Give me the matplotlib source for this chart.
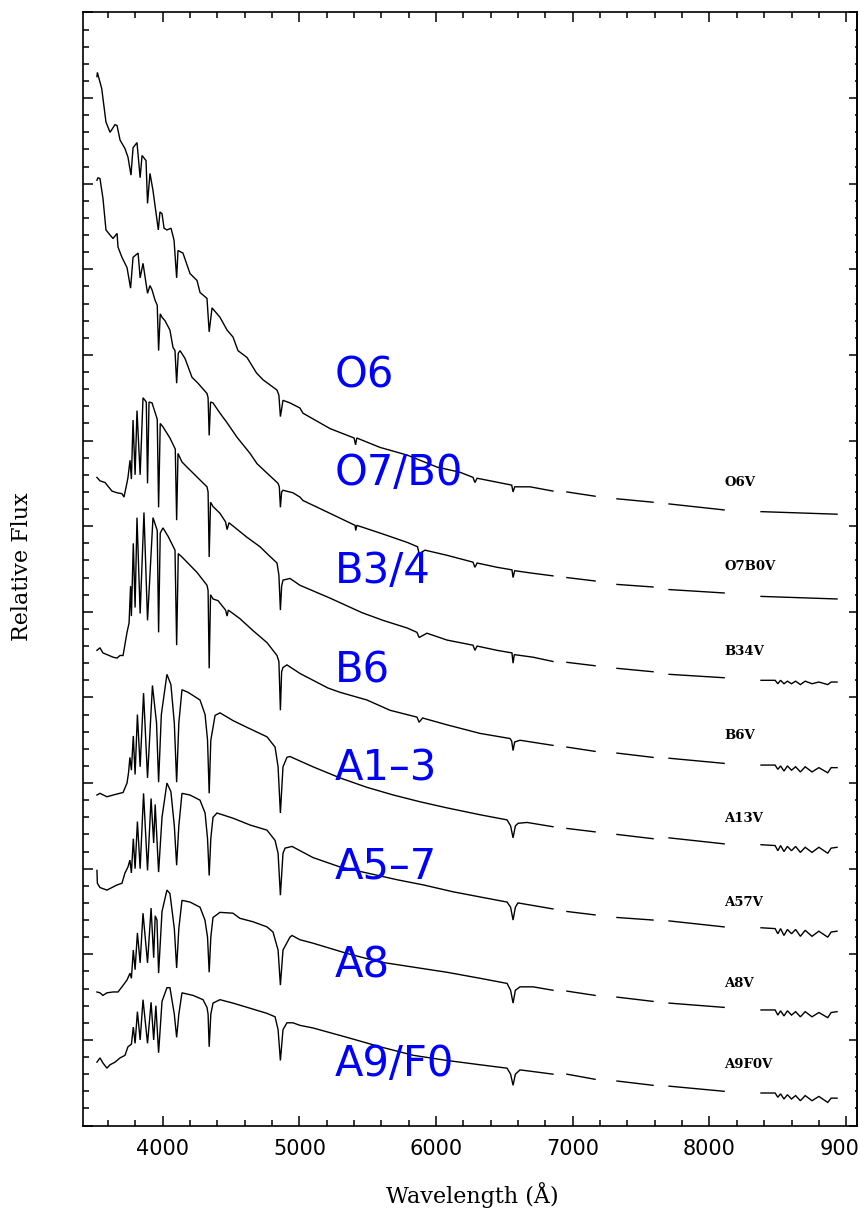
import numpy as np
import matplotlib
matplotlib.use("Agg")
import matplotlib.pyplot as plt
from matplotlib.ticker import MultipleLocator, NullFormatter

nan = np.nan

# Stacked main-sequence spectra: wavelength (Angstrom) and offset relative flux.
# NaN entries mark masked telluric bands.
o6v_wave = [3519, 3522, 3554, 3585, 3615, 3651, 3666, 3688, 3724, 3746, 3768, 3783, 3812, 3835, 3849,
            3878, 3889, 3907, 3929, 3968, 3980, 3995, 4010, 4031, 4061, 4083, 4102, 4112, 4148, 4200,
            4251, 4273, 4324, 4340, 4361, 4419, 4471, 4514, 4551, 4617, 4686, 4734, 4836, 4850, 4861,
            4880, 4931, 5004, 5026, 5224, 5400, 5411, 5420, 5590, 5790, 6007, 6175, 6270, 6284, 6300,
            6553, 6563, 6575, 6687, 6855, 6900, 6957, 7163, 7240, 7323, 7587, 7650, 7704, 8107, 8240,
            8377, 8933]
o6v_flux = [12.25, 12.30, 12.11, 11.72, 11.60, 11.69, 11.68, 11.51, 11.41, 11.31, 11.10, 11.42, 11.48, 11.07, 11.33,
            11.27, 10.77, 11.12, 10.92, 10.46, 10.67, 10.65, 10.48, 10.46, 10.48, 10.34, 9.90, 10.22, 10.19, 9.95,
            9.87, 9.73, 9.66, 9.27, 9.55, 9.44, 9.29, 9.21, 9.05, 8.97, 8.79, 8.71, 8.59, 8.53, 8.28,
            8.47, 8.44, 8.38, 8.32, 8.14, 8.03, 7.95, 8.03, 7.92, 7.83, 7.69, 7.63, 7.57, 7.51, 7.56,
            7.48, 7.40, 7.46, 7.46, 7.41, nan, 7.40, 7.35, nan, 7.32, 7.28, nan, 7.26, 7.19, nan,
            7.17, 7.14]

o7b0v_wave = [3519, 3526, 3541, 3563, 3585, 3615, 3637, 3666, 3673, 3702, 3739, 3765, 3783, 3820, 3835,
              3856, 3889, 3907, 3922, 3944, 3960, 3970, 3982, 3995, 4017, 4053, 4075, 4090, 4102, 4114,
              4127, 4163, 4214, 4258, 4324, 4332, 4340, 4350, 4368, 4419, 4470, 4543, 4639, 4690, 4763,
              4844, 4853, 4861, 4870, 4880, 4953, 5004, 5026, 5224, 5407, 5412, 5420, 5590, 5790, 5864,
              5876, 5919, 6080, 6270, 6284, 6300, 6446, 6555, 6563, 6575, 6709, 6855, 6900, 6957, 7163,
              7240, 7323, 7587, 7650, 7704, 8107, 8240, 8377, 8933]
o7b0v_flux = [11.04, 11.07, 11.06, 10.83, 10.46, 10.40, 10.36, 10.42, 10.26, 10.14, 10.02, 9.78, 10.14, 10.19, 9.90,
              10.07, 9.72, 9.81, 9.76, 9.64, 9.58, 9.05, 9.48, 9.44, 9.40, 9.29, 9.09, 9.05, 8.67, 9.02,
              9.05, 8.96, 8.74, 8.67, 8.55, 8.50, 8.06, 8.45, 8.44, 8.32, 8.21, 8.04, 7.85, 7.73, 7.62,
              7.50, 7.46, 7.22, 7.40, 7.42, 7.39, 7.34, 7.30, 7.15, 7.01, 6.95, 7.01, 6.92, 6.81, 6.76,
              6.68, 6.72, 6.66, 6.58, 6.52, 6.57, 6.52, 6.49, 6.40, 6.48, 6.45, 6.42, nan, 6.40, 6.36,
              nan, 6.32, 6.29, nan, 6.26, 6.22, nan, 6.18, 6.15]

b34v_wave = [3519, 3541, 3578, 3629, 3666, 3702, 3717, 3739, 3746, 3761, 3771, 3783, 3798, 3812, 3835,
             3856, 3880, 3889, 3900, 3922, 3960, 3970, 3982, 4002, 4053, 4092, 4102, 4112, 4141, 4178,
             4273, 4324, 4332, 4340, 4350, 4368, 4419, 4460, 4471, 4485, 4617, 4712, 4763, 4836, 4850,
             4861, 4870, 4880, 4931, 5004, 5224, 5458, 5612, 5790, 5860, 5876, 5933, 6080, 6270, 6284,
             6300, 6446, 6555, 6563, 6572, 6709, 6855, 6900, 6957, 7163, 7240, 7323, 7587, 7650, 7704,
             8107, 8240, 8377, 8480, 8500, 8520, 8545, 8570, 8600, 8630, 8665, 8700, 8750, 8800, 8865,
             8890, 8933]
b34v_flux = [7.57, 7.53, 7.51, 7.41, 7.39, 7.38, 7.34, 7.51, 7.57, 7.77, 7.55, 8.24, 7.60, 8.35, 7.60,
             8.50, 8.45, 7.50, 8.45, 8.44, 8.25, 7.22, 8.20, 8.16, 8.03, 7.90, 7.07, 7.85, 7.75, 7.69,
             7.54, 7.46, 7.40, 6.64, 7.28, 7.23, 7.15, 7.05, 6.96, 7.04, 6.87, 6.76, 6.68, 6.57, 6.43,
             6.02, 6.30, 6.37, 6.39, 6.31, 6.16, 5.99, 5.90, 5.81, 5.76, 5.70, 5.75, 5.67, 5.61, 5.55,
             5.60, 5.55, 5.52, 5.40, 5.50, 5.47, 5.42, nan, 5.41, 5.37, nan, 5.34, 5.30, nan, 5.27,
             5.23, nan, 5.20, 5.20, 5.16, 5.20, 5.16, 5.19, 5.16, 5.19, 5.15, 5.19, 5.16, 5.18, 5.15,
             5.18, 5.18]

b6v_wave = [3519, 3541, 3563, 3637, 3666, 3688, 3710, 3739, 3754, 3765, 3771, 3785, 3798, 3812, 3835,
            3863, 3889, 3929, 3960, 3970, 3982, 4002, 4040, 4090, 4102, 4114, 4141, 4178, 4251, 4324,
            4332, 4340, 4350, 4368, 4405, 4460, 4471, 4480, 4565, 4661, 4763, 4836, 4850, 4861, 4870,
            4880, 4909, 5004, 5209, 5297, 5494, 5663, 5860, 5876, 5901, 6080, 6321, 6541, 6553, 6563,
            6575, 6614, 6855, 6900, 6957, 7163, 7240, 7323, 7587, 7650, 7704, 8107, 8240, 8377, 8480,
            8500, 8520, 8545, 8570, 8600, 8630, 8665, 8700, 8750, 8800, 8865, 8890, 8933]
b6v_flux = [5.55, 5.58, 5.52, 5.47, 5.46, 5.49, 5.49, 5.76, 5.87, 6.30, 5.95, 6.80, 6.05, 7.10, 5.98,
            7.16, 5.90, 7.10, 6.95, 5.76, 6.92, 6.98, 6.88, 6.72, 5.61, 6.68, 6.64, 6.58, 6.46, 6.31,
            6.25, 5.34, 6.20, 6.15, 6.13, 6.02, 5.95, 6.02, 5.92, 5.78, 5.64, 5.49, 5.42, 4.85, 5.30,
            5.35, 5.38, 5.28, 5.11, 5.06, 4.97, 4.85, 4.77, 4.71, 4.76, 4.68, 4.58, 4.52, 4.49, 4.38,
            4.48, 4.50, 4.44, nan, 4.42, 4.37, nan, 4.35, 4.30, nan, 4.29, 4.23, nan, 4.21, 4.21,
            4.16, 4.20, 4.14, 4.20, 4.15, 4.19, 4.13, 4.19, 4.13, 4.18, 4.12, 4.18, 4.18]

a13v_wave = [3519, 3541, 3592, 3637, 3710, 3739, 3750, 3760, 3771, 3785, 3798, 3815, 3835, 3860, 3889,
             3925, 3955, 3970, 3990, 4031, 4060, 4085, 4102, 4118, 4141, 4185, 4273, 4310, 4328, 4340,
             4352, 4383, 4419, 4514, 4617, 4763, 4822, 4844, 4861, 4880, 4909, 4931, 5099, 5297, 5494,
             5688, 5886, 6080, 6321, 6519, 6545, 6563, 6580, 6600, 6665, 6855, 6900, 6957, 7163, 7240,
             7323, 7587, 7650, 7704, 8107, 8240, 8377, 8480, 8500, 8520, 8545, 8570, 8600, 8630, 8665,
             8700, 8750, 8800, 8865, 8890, 8933]
a13v_flux = [3.86, 3.88, 3.84, 3.86, 3.89, 4.00, 4.12, 4.30, 4.15, 4.55, 4.10, 4.80, 4.19, 5.05, 4.06,
             5.14, 4.70, 4.01, 4.80, 5.27, 5.15, 4.70, 4.01, 4.70, 5.09, 5.06, 4.97, 4.80, 4.50, 3.88,
             4.50, 4.79, 4.82, 4.73, 4.65, 4.54, 4.42, 4.19, 3.65, 4.19, 4.30, 4.31, 4.19, 4.06, 3.95,
             3.86, 3.78, 3.71, 3.63, 3.57, 3.50, 3.36, 3.50, 3.53, 3.54, 3.49, nan, 3.47, 3.43, nan,
             3.40, 3.35, nan, 3.36, 3.29, nan, 3.28, 3.27, 3.21, 3.27, 3.20, 3.26, 3.21, 3.26, 3.19,
             3.25, 3.19, 3.25, 3.18, 3.24, 3.25]

a57v_wave = [3519, 3522, 3541, 3592, 3666, 3702, 3724, 3746, 3760, 3771, 3785, 3798, 3815, 3835, 3860,
             3889, 3915, 3934, 3945, 3970, 3995, 4031, 4060, 4085, 4102, 4118, 4141, 4200, 4273, 4310,
             4328, 4340, 4352, 4368, 4397, 4514, 4639, 4763, 4822, 4844, 4861, 4880, 4895, 4946, 5099,
             5297, 5494, 5717, 5908, 6124, 6321, 6519, 6545, 6563, 6580, 6599, 6709, 6855, 6900, 6957,
             7163, 7240, 7323, 7587, 7650, 7704, 8107, 8240, 8377, 8480, 8500, 8520, 8545, 8570, 8600,
             8630, 8665, 8700, 8750, 8800, 8865, 8890, 8933]
a57v_flux = [2.98, 2.83, 2.78, 2.75, 2.81, 2.83, 2.95, 3.02, 3.10, 2.95, 3.35, 3.00, 3.55, 3.00, 3.88,
             2.98, 3.82, 3.30, 3.75, 2.96, 3.60, 4.00, 3.90, 3.50, 3.04, 3.50, 3.88, 3.86, 3.80, 3.65,
             3.35, 2.92, 3.35, 3.60, 3.65, 3.59, 3.51, 3.45, 3.33, 3.18, 2.69, 3.18, 3.24, 3.26, 3.13,
             3.02, 2.95, 2.87, 2.81, 2.73, 2.67, 2.61, 2.55, 2.40, 2.55, 2.60, 2.57, 2.53, nan, 2.50,
             2.46, nan, 2.43, 2.40, nan, 2.39, 2.32, nan, 2.31, 2.30, 2.24, 2.30, 2.22, 2.29, 2.24,
             2.29, 2.21, 2.28, 2.21, 2.27, 2.20, 2.26, 2.27]

a8v_wave = [3519, 3541, 3563, 3592, 3637, 3673, 3702, 3739, 3761, 3771, 3785, 3798, 3815, 3835, 3856,
            3889, 3915, 3934, 3945, 3958, 3970, 3995, 4031, 4053, 4085, 4102, 4118, 4141, 4200, 4273,
            4309, 4328, 4340, 4352, 4368, 4419, 4514, 4565, 4661, 4763, 4807, 4844, 4861, 4880, 4931,
            4946, 5004, 5099, 5348, 5590, 5834, 6080, 6321, 6519, 6545, 6563, 6580, 6614, 6709, 6855,
            6900, 6957, 7163, 7240, 7323, 7587, 7650, 7704, 8107, 8240, 8377, 8480, 8500, 8520, 8545,
            8570, 8600, 8630, 8665, 8700, 8750, 8800, 8865, 8890, 8933]
a8v_flux = [1.56, 1.55, 1.52, 1.55, 1.56, 1.56, 1.62, 1.70, 1.78, 1.72, 2.05, 1.82, 2.25, 1.90, 2.48,
            1.90, 2.54, 1.96, 2.45, 2.40, 1.78, 2.50, 2.75, 2.71, 2.30, 1.84, 2.30, 2.63, 2.61, 2.55,
            2.40, 2.20, 1.79, 2.20, 2.43, 2.49, 2.48, 2.42, 2.38, 2.32, 2.26, 2.05, 1.64, 2.05, 2.20,
            2.22, 2.17, 2.13, 2.01, 1.91, 1.85, 1.79, 1.72, 1.66, 1.58, 1.43, 1.58, 1.62, 1.62, 1.58,
            nan, 1.57, 1.52, nan, 1.50, 1.45, nan, 1.43, 1.38, nan, 1.35, 1.35, 1.29, 1.34, 1.28,
            1.34, 1.29, 1.33, 1.27, 1.33, 1.27, 1.32, 1.26, 1.32, 1.33]

a9f0v_wave = [3519, 3541, 3563, 3592, 3615, 3651, 3688, 3724, 3746, 3771, 3785, 3798, 3815, 3835, 3856,
              3889, 3915, 3934, 3950, 3970, 3995, 4031, 4053, 4085, 4102, 4118, 4141, 4222, 4295, 4324,
              4332, 4340, 4352, 4368, 4419, 4514, 4639, 4763, 4822, 4844, 4861, 4880, 4909, 4953, 5004,
              5099, 5348, 5590, 5834, 6080, 6321, 6519, 6545, 6563, 6580, 6614, 6760, 6855, 6900, 6957,
              7163, 7240, 7323, 7587, 7650, 7704, 8107, 8240, 8377, 8480, 8500, 8520, 8545, 8570, 8600,
              8630, 8665, 8700, 8750, 8800, 8865, 8890, 8933]
a9f0v_flux = [0.74, 0.79, 0.73, 0.67, 0.71, 0.74, 0.79, 0.82, 0.92, 0.95, 1.15, 0.96, 1.33, 1.00, 1.47,
              0.96, 1.44, 1.00, 1.40, 0.85, 1.45, 1.61, 1.61, 1.30, 1.03, 1.30, 1.55, 1.52, 1.47, 1.38,
              1.30, 0.92, 1.30, 1.43, 1.47, 1.43, 1.37, 1.31, 1.27, 1.12, 0.76, 1.12, 1.20, 1.20, 1.17,
              1.14, 1.03, 0.92, 0.82, 0.76, 0.71, 0.67, 0.60, 0.47, 0.60, 0.65, 0.62, 0.60, nan, 0.60,
              0.54, nan, 0.52, 0.47, nan, 0.46, 0.40, nan, 0.38, 0.38, 0.33, 0.37, 0.31, 0.36, 0.31,
              0.35, 0.29, 0.35, 0.29, 0.34, 0.27, 0.32, 0.32]

spectral_classes = ["O6", "O7/B0", "B3/4", "B6", "A1\u20133", "A5\u20137", "A8", "A9/F0"]
template_names = ["O6V", "O7B0V", "B34V", "B6V", "A13V", "A57V", "A8V", "A9F0V"]

spectra = [
    (o6v_wave, o6v_flux),
    (o7b0v_wave, o7b0v_flux),
    (b34v_wave, b34v_flux),
    (b6v_wave, b6v_flux),
    (a13v_wave, a13v_flux),
    (a57v_wave, a57v_flux),
    (a8v_wave, a8v_flux),
    (a9f0v_wave, a9f0v_flux),
]

# Label placement (data coordinates)
class_label_x = 5260
class_label_y = [8.76, 7.62, 6.48, 5.32, 4.17, 3.02, 1.87, 0.72]
name_label_x = 8110
name_label_y = [7.51, 6.53, 5.54, 4.55, 3.59, 2.61, 1.66, 0.71]

fig = plt.figure(figsize=(8.6, 12.1), dpi=100)
ax = fig.add_axes([0.0962, 0.0698, 0.9003, 0.9199])

for wave, flux in spectra:
    ax.plot(wave, flux, color="black", lw=1.0, solid_joinstyle="miter")

ax.set_xlim(3415, 9079)
ax.set_ylim(0, 13)

ax.xaxis.set_major_locator(MultipleLocator(1000))
ax.xaxis.set_minor_locator(MultipleLocator(200))
ax.yaxis.set_major_locator(MultipleLocator(1))
ax.yaxis.set_minor_locator(MultipleLocator(0.2))
ax.yaxis.set_major_formatter(NullFormatter())

ax.tick_params(which="both", direction="in", top=True, right=False, width=1.1, colors="black")
ax.tick_params(which="major", length=7.5)
ax.tick_params(which="minor", length=4)
ax.tick_params(axis="x", which="major", pad=10, labelsize=15)
for lbl in ax.get_xticklabels():
    lbl.set_fontfamily("DejaVu Sans")
for sp in ax.spines.values():
    sp.set_linewidth(1.2)

# right-hand frame: short inward ticks, no labels
right = ax.secondary_yaxis("right")
right.yaxis.set_major_locator(MultipleLocator(1))
right.yaxis.set_minor_locator(MultipleLocator(0.2))
right.yaxis.set_major_formatter(NullFormatter())
right.tick_params(which="both", direction="in", width=1.1)
right.tick_params(which="major", length=6)
right.tick_params(which="minor", length=1.8)
right.spines["right"].set_linewidth(1.2)

for txt, y in zip(spectral_classes, class_label_y):
    ax.text(class_label_x, y, txt, color="#0000ff", fontsize=30, family="DejaVu Sans",
            ha="left", va="center")

for txt, y in zip(template_names, name_label_y):
    ax.text(name_label_x, y, txt, color="black", fontsize=9.5, family="DejaVu Serif",
            fontweight="bold", ha="left", va="center")

fig.text(472 / 860, 1 - 1195 / 1210, "Wavelength (\u00c5)", family="DejaVu Serif",
         fontsize=16, ha="center", va="center")
fig.text(22 / 860, 1 - 567 / 1210, "Relative Flux", family="DejaVu Serif",
         fontsize=16, ha="center", va="center", rotation=90)

fig.savefig("out.png", dpi=100)
